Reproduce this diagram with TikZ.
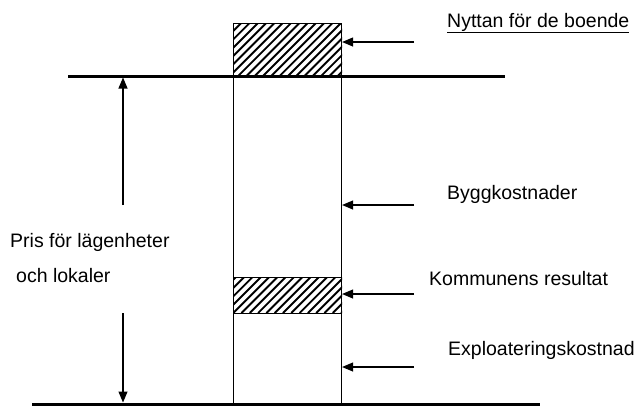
\documentclass[tikz,border=0pt]{standalone}
\usepackage{fontspec}
\setmainfont{Liberation Sans}
\usetikzlibrary{arrows.meta}
\begin{document}
\begin{tikzpicture}[x=1bp,y=-1bp,
  lbl/.style={inner sep=0pt,anchor=base west,font=\fontsize{19.5bp}{22bp}\selectfont},
  arr/.style={line width=1.1bp,-{Triangle[length=11bp,width=9bp]}},
  thickline/.style={line width=3bp},
  box/.style={draw,line width=1.1bp,inner sep=0pt,anchor=north west,minimum width=108bp},
  hatch/.style={line width=1.9bp}]
\useasboundingbox (0,0) rectangle (637,405);
% hatched boxes
\node[box,minimum height=53bp] (hat1) at (233,23) {};
\node[box,minimum height=36bp] (hat2) at (233,277) {};
\begin{scope}
  \clip (hat1.north west) rectangle (hat1.south east);
  \foreach \i in {0,...,22} {\draw[hatch] (180+\i*8.3,76) -- (233+\i*8.3,23);}
\end{scope}
\begin{scope}
  \clip (hat2.north west) rectangle (hat2.south east);
  \foreach \i in {0,...,20} {\draw[hatch] (200+\i*8.3,313) -- (236+\i*8.3,277);}
\end{scope}
% column
\node[box,minimum height=381bp] (col) at (233,23) {};
% horizontal lines
\coordinate (tl1) at (68,76);
\coordinate (tl2) at (505,76);
\coordinate (bl1) at (32,404);
\coordinate (bl2) at (540,404);
\draw[thickline] (tl1) -- (tl2);
\draw[thickline] (bl1) -- (bl2);
% labels
\node[lbl] (l1) at (447,27) {\underline{Nyttan för de boende}};
\node[lbl] (l2) at (447,199) {Byggkostnader};
\node[lbl] (l3) at (429,285) {Kommunens resultat};
\node[lbl] (l4) at (448,355) {Exploateringskostnad};
\node[lbl] (p1) at (10,247) {Pris för lägenheter};
\node[lbl] (p2) at (16,282) {och lokaler};
% arrows to column
\coordinate (a1) at (414,42);
\coordinate (a2) at (414,205);
\coordinate (a3) at (414,294);
\coordinate (a4) at (414,367);
\foreach \a in {a1,a2,a3,a4} {\draw[arr] (\a) -- (\a -| col.east);}
% vertical double arrow
\coordinate (v1) at (123,205);
\coordinate (v2) at (123,313);
\draw[arr,shorten >=1.5bp] (v1) -- (v1 |- tl1);
\draw[arr,shorten >=1.5bp] (v2) -- (v2 |- bl1);
\end{tikzpicture}
\end{document}
